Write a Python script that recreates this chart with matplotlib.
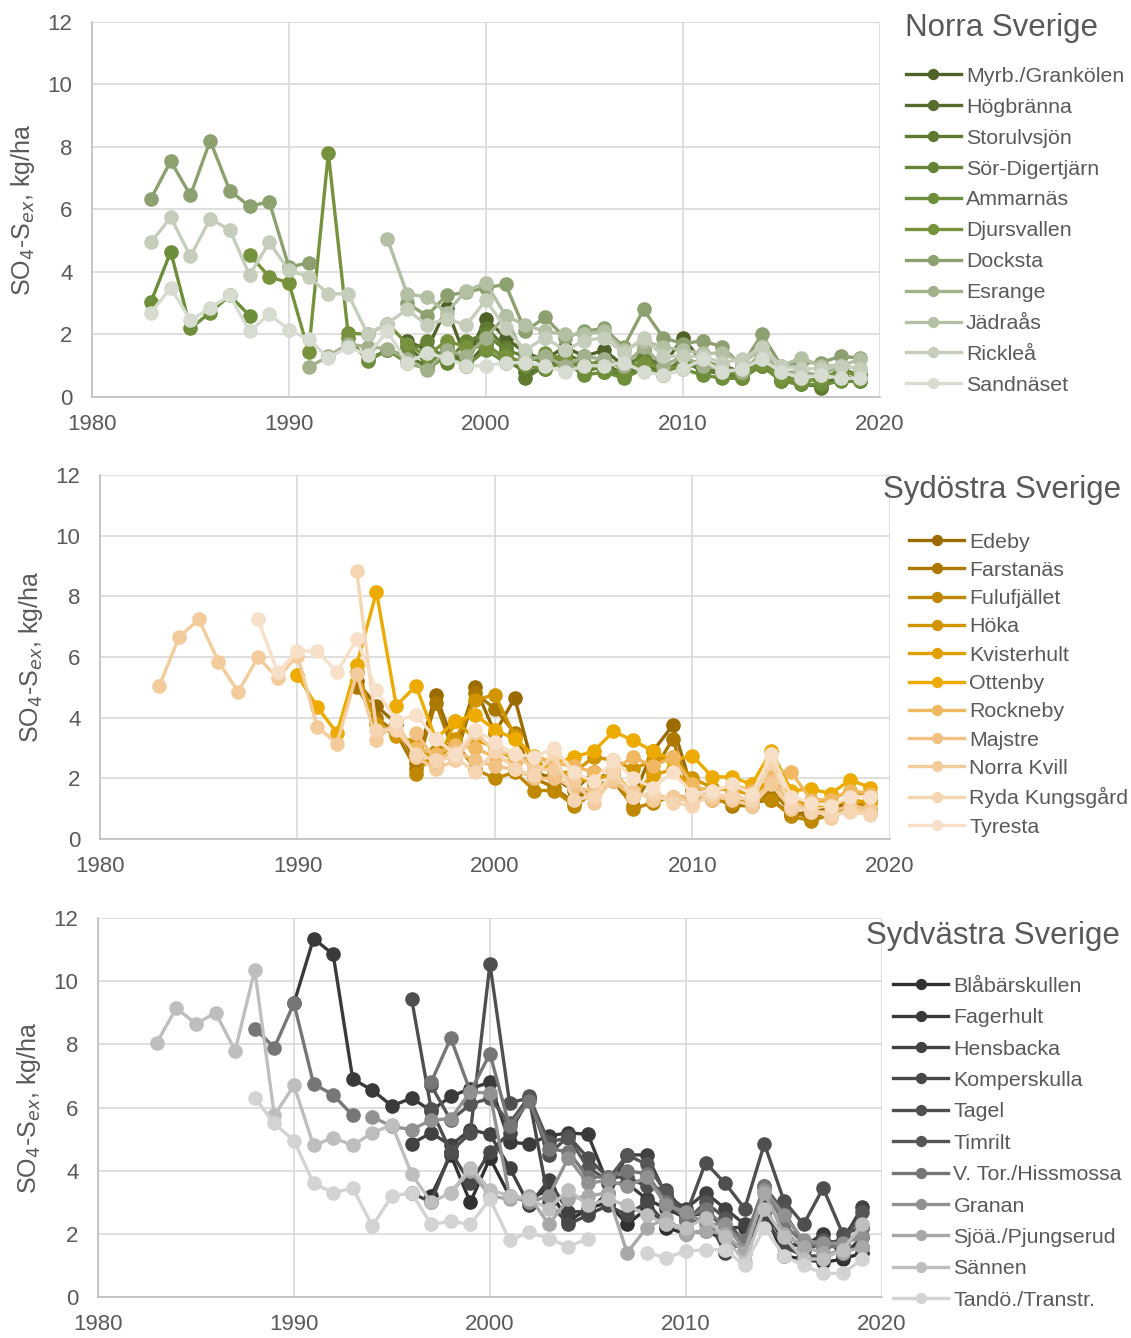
import numpy as np
import matplotlib
matplotlib.use("Agg")
from matplotlib import pyplot as plt

nan = np.nan
years = np.arange(1983, 2020)

# years 1983..2019, nan = no value
# --- Norra Sverige ---
myrb = [nan]*13 + [1.8, 1.5, 2.85, 1.2, 2.5, 1.9, 1.4, 1.2, 1.6, 1.3, 1.5, 1.0, 1.3, 1.0, 1.9, 1.1, 1.0, 0.8, 1.2, 0.7, 0.5, 0.6, 0.8, 0.7]
hogbranna = [nan]*13 + [1.6, 1.1, 1.5, 1.0, 1.7, 1.2, 0.8, 0.9, 1.3, 0.9, 1.1, 0.7, 1.2, 0.8, 1.1, 0.9, 0.7, 0.7, 1.0, 0.6, 0.4, 0.35, 0.7, 0.5]
storulvsjon = [nan]*11 + [1.2, 1.5, 1.3, 1.0, 1.6, 1.1, 2.2, 1.6, 0.6, 1.0, 1.4, 1.1, 0.8, 0.7, 1.0, 0.8, 1.2, 0.8, 0.8, 0.6, 1.1, 0.5, 0.5, 0.3, 0.6, 0.6]
sordigertjarn = [nan]*13 + [1.4, 1.8, 1.1, 1.8, 2.0, 1.5, 1.3, 1.1, 1.3, 0.8, 1.0, 0.7, 1.5, 0.7, 1.0, 1.0, 0.8, 0.7, 1.3, 0.6, 0.6, 0.5, 0.9, 0.7]
ammarnas = [3.05, 4.65, 2.2, 2.7, 3.25, 2.6] + [nan]*4 + [1.9, 1.15, 1.5, 1.1, 0.9, 1.3, 1.0, 1.5, 1.1, 1.0, 0.9, 1.1, 0.7, 0.8, 0.6, 0.9, 0.7, 0.9, 0.7, 0.6, 0.6, 1.0, 0.5, 0.4, 0.4, 0.5, 0.5]
djursvallen = [nan]*5 + [4.55, 3.85, 3.65, 1.45, 7.8, 2.05, 2.0, 2.35, 1.7, 1.3, 1.8, 1.6, 1.6, 1.3, 1.1, 1.4, 1.2, 1.0, 1.2, 0.9, 1.1, 0.9, 1.0, 1.2, 0.9, 0.7, 1.1, 0.6, 0.5, 0.6, 0.8, 0.7]
docksta = [6.35, 7.55, 6.45, 8.2, 6.6, 6.1, 6.25, 4.15, 4.3] + [nan]*4 + [3.0, 2.6, 3.25, 3.35, 3.5, 3.6, 2.1, 2.55, 1.9, 2.1, 2.2, 1.6, 2.8, 1.9, 1.7, 1.8, 1.6, 1.0, 2.0, 1.0, 1.1, 1.1, 1.3, 1.25]
esrange = [nan]*8 + [0.95, 1.3, 1.7, 1.6, 1.55, 1.2, 0.85, 1.5, 1.3, 1.9, 2.6, 1.2, 1.3, 1.0, 1.3, 1.2, 1.0, 1.6, 1.0, 1.3, 1.0, 0.9, 0.8, 1.4, 0.8, 0.8, 0.7, 1.0, 0.9]
jadraas = [nan]*12 + [5.05, 3.3, 3.2, 2.7, 3.4, 3.65, 2.6, 2.3, 2.1, 2.0, 2.0, 2.1, 1.5, 1.8, 1.6, 1.5, 1.4, 1.4, 1.1, 1.5, 1.0, 1.25, 1.0, 1.0, 1.2]
ricklea = [4.95, 5.75, 4.5, 5.7, 5.35, 3.9, 4.95, 4.05, 3.85, 3.3, 3.3, 2.0, 2.35, 2.8, 2.3, 2.5, 2.3, 3.1, 2.2, 1.5, 1.9, 1.5, 1.8, 1.9, 1.4, 1.9, 1.3, 1.3, 1.3, 1.1, 1.2, 1.6, 1.0, 0.9, 0.9, 1.0, 0.9]
sandnaset = [2.7, 3.5, 2.45, 2.85, 3.25, 2.1, 2.65, 2.15, 1.85, 1.25, 1.6, 1.35, 2.1, 1.1, 1.4, 1.25, 1.0, 1.0, 1.1, 1.1, 1.0, 0.8, 1.0, 1.0, 1.1, 0.8, 0.7, 0.9, 1.2, 0.8, 0.9, 1.2, 0.8, 0.6, 0.7, 0.6, 0.6]

# --- Sydöstra Sverige ---
edeby = [nan]*10 + [5.2, 4.4, 3.8, 2.5, 4.75, 3.0, 5.0, 3.5, 4.65, 2.2, 2.0, 1.6, 2.2, 2.0, 1.4, 2.9, 3.75, 1.6, 1.5, 1.3, 1.2, 1.3, 0.8, 0.9, 1.0, 1.2, 1.0]
farstanas = [nan]*10 + [5.0, 4.0, 3.5, 2.3, 4.5, 2.7, 4.8, 4.3, 3.5, 2.0, 1.7, 1.2, 1.8, 1.9, 1.1, 2.2, 3.3, 1.3, 1.4, 1.1, 1.1, 1.6, 0.9, 0.7, 0.9, 1.0, 0.9]
fulufjallet = [nan]*13 + [2.15, 2.9, 3.2, 2.3, 2.0, 2.2, 1.6, 1.6, 1.1, 1.5, 2.1, 1.0, 1.2, 1.4, 1.4, 1.3, 1.2, 1.3, 1.3, 0.75, 0.6, 0.8, 1.0, 1.3]
hoka = [nan]*10 + [5.5, 3.8, 3.4, 3.2, 2.5, 3.3, 4.6, 4.75, 3.4, 2.6, 2.2, 2.2, 2.7, 2.6, 2.3, 2.6, 2.7, 2.0, 1.7, 1.6, 1.5, 2.0, 1.3, 1.2, 1.3, 1.6, 1.4]
kvisterhult = [nan]*13 + [2.7, 2.4, 3.9, 3.3, 3.0, 2.6, 2.5, 2.3, 2.0, 1.9, 2.2, 1.5, 2.1, 2.3, 1.7, 1.6, 1.7, 1.4, 2.0, 1.2, 1.1, 1.1, 1.3, 1.2]
ottenby = [nan]*7 + [5.4, 4.35, 3.5, 5.75, 8.15, 4.4, 5.05, 3.3, 3.9, 4.1, 3.6, 3.3, 2.75, 2.5, 2.7, 2.9, 3.55, 3.25, 2.9, 2.6, 2.75, 2.05, 2.05, 1.8, 2.9, 1.6, 1.65, 1.5, 1.95, 1.7]
rockneby = [nan]*13 + [3.0, 2.8, 3.1, 3.0, 2.7, 2.5, 2.7, 2.5, 2.4, 2.2, 2.3, 2.7, 2.4, 2.7, 1.8, 1.5, 1.8, 1.6, 2.3, 2.2, 1.3, 1.3, 1.6, 1.5]
majstre = [nan]*13 + [3.5, 2.6, 2.9, 2.6, 2.4, 2.3, 2.0, 2.0, 1.7, 1.6, 1.9, 1.4, 1.5, 1.3, 1.5, 1.3, 1.5, 1.2, 1.9, 1.3, 0.9, 0.9, 1.1, 1.0]
norrakvill = [5.05, 6.65, 7.25, 5.85, 4.85, 6.0, 5.3, 6.05, 3.7, 3.15, 5.45, 3.25, 3.9, 2.7, 2.3, 2.6, 3.5, 2.9, 2.8, 2.3, 2.3, 1.9, 1.2, 2.0, 1.6, 1.3, 1.4, 1.2, 1.4, 1.3, 1.1, 1.8, 1.0, 1.0, 0.7, 1.0, 0.9]
ryda = [nan]*10 + [8.85, 3.6, 3.6, 2.8, 2.6, 2.7, 2.2, 2.9, 2.3, 2.1, 2.8, 1.3, 1.4, 2.2, 1.4, 1.5, 1.2, 1.1, 1.5, 1.4, 1.3, 2.5, 1.1, 0.9, 0.8, 0.9, 0.8]
tyresta = [nan]*5 + [7.25, 5.5, 6.2, 6.2, 5.5, 6.6, 4.9, 3.9, 4.1, 3.3, 2.8, 3.6, 3.2, 2.8, 2.7, 3.0, 2.2, 1.9, 2.6, 2.0, 1.7, 2.2, 1.5, 1.6, 1.8, 1.5, 2.8, 1.4, 1.2, 1.1, 1.4, 1.4]

# --- Sydvästra Sverige ---
blabarskullen = [nan]*14 + [3.2, 4.5, 3.0, 4.4, 3.2, 3.1, 3.4, 2.4, 2.8, 3.0, 2.3, 2.8, 2.2, 2.0, 2.1, 1.8, 1.5, 2.7, 1.3, 1.2, 1.1, 1.2, 1.4]
fagerhult = [nan]*7 + [9.3, 11.35, 10.85, 6.9, 6.55, 6.05, 6.3, 5.9, 6.35, 6.6, 6.8, 4.9, 4.85, 5.1, 5.2, 5.15, 3.6, 3.6, 3.1, 2.8, 2.5, 2.7, 2.2, 2.2, 2.9, 1.7, 1.6, 2.0, 1.3, 1.9]
hensbacka = [nan]*13 + [4.85, 5.2, 4.8, 5.3, 5.15, 4.1, 2.9, 3.7, 2.7, 2.7, 3.3, 4.5, 4.5, 3.2, 2.8, 3.3, 2.8, 2.3, 2.4, 2.1, 1.5, 1.7, 1.8, 2.85]
komperskulla = [nan]*13 + [3.3, 3.0, 4.6, 3.6, 4.6, 5.2, 6.3, 3.0, 2.3, 2.6, 2.9, 2.6, 3.0, 2.3, 2.2, 2.6, 1.4, 1.8, 2.5, 1.6, 1.3, 1.3, 1.5, 1.6]
tagel = [nan]*13 + [9.45, 5.95, 4.6, 5.2, 10.55, 6.15, 6.3, 4.5, 5.1, 4.4, 3.8, 3.8, 3.5, 3.4, 2.6, 4.25, 3.6, 2.8, 4.85, 3.05, 2.3, 3.45, 2.0, 2.2]
timrilt = [nan]*14 + [6.7, 5.6, 6.1, 6.3, 5.5, 6.35, 4.9, 5.05, 4.1, 3.7, 4.5, 4.2, 3.3, 2.4, 3.0, 2.5, 1.7, 3.5, 2.7, 1.7, 1.8, 1.7, 2.7]
vtor = [nan]*5 + [8.5, 7.9, 9.3, 6.75, 6.4, 5.75] + [nan]*3 + [6.8, 8.2, 6.5, 7.7, 5.4, 6.2, 4.7, 4.6, 3.8, 3.8, 4.0, 3.9, 3.0, 2.5, 2.8, 2.2, 1.8, 3.5, 2.3, 1.7, 1.6, 1.6, 2.2]
granan = [nan]*11 + [5.7, 5.4, 5.3, 5.6, 5.65, 6.5, 6.45, 3.2, 3.0, 3.2, 4.4, 3.6, 3.7, 3.5, 3.8, 2.9, 2.7, 2.3, 2.3, 1.5, 3.4, 2.6, 1.8, 1.7, 1.7, 1.9]
sjoa = [nan]*15 + [3.3, 4.0, 3.2, 3.1, 3.2, 2.3, 3.1, 3.2, 3.3, 1.4, 2.2, 2.5, 2.0, 2.1, 2.0, 1.4, 3.3, 2.0, 1.6, 1.4, 1.4, 1.6]
sannen = [8.05, 9.15, 8.65, 9.0, 7.8, 10.35, 5.75, 6.7, 4.8, 5.05, 4.8, 5.2, 5.45, 3.9, 3.0, 3.3, 4.1, 3.4, 3.2, 3.1, 2.8, 3.4, 2.9, 3.1, 2.9, 2.6, 2.3, 2.2, 2.5, 1.9, 1.1, 2.8, 1.9, 1.2, 1.2, 1.5, 2.3]
tando = [nan]*5 + [6.3, 5.5, 4.95, 3.6, 3.3, 3.45, 2.25, 3.2, 3.3, 2.3, 2.4, 2.3, 3.1, 1.8, 2.05, 1.85, 1.6, 1.85, nan, nan, 1.4, 1.25, 1.45, 1.5, 1.5, 1.0, 2.2, 1.3, 1.0, 0.75, 0.75, 1.2]

norra_names = ["Myrb./Grankölen", "Högbränna", "Storulvsjön", "Sör-Digertjärn", "Ammarnäs",
               "Djursvallen", "Docksta", "Esrange", "Jädraås", "Rickleå", "Sandnäset"]
norra_vals = [myrb, hogbranna, storulvsjon, sordigertjarn, ammarnas, djursvallen,
              docksta, esrange, jadraas, ricklea, sandnaset]
norra_cols = ["#4F6228", "#566B2C", "#5E7A31", "#668436", "#6D8E3B", "#76923C",
              "#8DA070", "#A2B08C", "#B3C0A4", "#C5CEBB", "#D6DDD0"]

syd_o_names = ["Edeby", "Farstanäs", "Fulufjället", "Höka", "Kvisterhult", "Ottenby",
               "Rockneby", "Majstre", "Norra Kvill", "Ryda Kungsgård", "Tyresta"]
syd_o_vals = [edeby, farstanas, fulufjallet, hoka, kvisterhult, ottenby,
              rockneby, majstre, norrakvill, ryda, tyresta]
syd_o_cols = ["#9C6B00", "#AD7800", "#C08700", "#D29500", "#E0A000", "#EDAA00",
              "#F0B860", "#F2C284", "#F4CC9C", "#F6D6B2", "#F8E0C8"]

syd_v_names = ["Blåbärskullen", "Fagerhult", "Hensbacka", "Komperskulla", "Tagel", "Timrilt",
               "V. Tor./Hissmossa", "Granan", "Sjöä./Pjungserud", "Sännen", "Tandö./Transtr."]
syd_v_vals = [blabarskullen, fagerhult, hensbacka, komperskulla, tagel, timrilt,
              vtor, granan, sjoa, sannen, tando]
syd_v_cols = ["#303030", "#3A3A3C", "#414144", "#48484B", "#4F4F52", "#565659",
              "#767676", "#919191", "#A8A8A8", "#BEBEBE", "#D3D3D3"]

panels = [
    ("Norra Sverige", norra_names, norra_vals, norra_cols),
    ("Sydöstra Sverige", syd_o_names, syd_o_vals, syd_o_cols),
    ("Sydvästra Sverige", syd_v_names, syd_v_vals, syd_v_cols),
]

# axes rectangles in figure fractions, legend anchors, title positions
ax_rects = [[0.0813, 0.7033, 0.6967, 0.2803],
            [0.0884, 0.3729, 0.6985, 0.2720],
            [0.0866, 0.0306, 0.6932, 0.2833]]
leg_anchor = [(0.801, 0.950), (0.804, 0.602), (0.790, 0.270)]
leg_spacing = [0.556, 0.435, 0.58]
title_pos = [(0.800, 0.990), (0.781, 0.645), (0.766, 0.312)]

plt.rcParams['font.family'] = ['Liberation Sans', 'DejaVu Sans']
txt = "#595959"

fig = plt.figure(figsize=(11.31, 13.38), dpi=100)

for i, (title, names, vals, cols) in enumerate(panels):
    ax = fig.add_axes(ax_rects[i])
    for name, v, c in zip(names, vals, cols):
        ax.plot(years, np.array(v, dtype=float), color=c, lw=2.4, marker='o',
                markersize=9.5, markeredgecolor=c, label=name, solid_joinstyle='round')
    ax.set_xlim(1980, 2020)
    ax.set_ylim(0, 12)
    ax.set_xticks([1980, 1990, 2000, 2010, 2020])
    ax.set_yticks(range(0, 13, 2))
    ax.grid(True, color="#D9D9D9", lw=1.2)
    ax.set_axisbelow(True)
    for s in ['top', 'right']:
        ax.spines[s].set_visible(False)
    for s in ['left', 'bottom']:
        ax.spines[s].set_color("#BFBFBF")
        ax.spines[s].set_linewidth(1.2)
    ax.tick_params(length=0, labelsize=16, colors=txt)
    ax.tick_params(axis='x', pad=12)
    ax.tick_params(axis='y', pad=14)
    ax.set_ylabel("SO$_4$-S$_{ex}$, kg/ha", fontsize=18, color=txt, labelpad=8)
    fig.text(title_pos[i][0], title_pos[i][1], title, fontsize=22.5, color=txt,
             ha='left', va='top')
    ax.legend(loc='upper left', bbox_to_anchor=leg_anchor[i], bbox_transform=fig.transFigure,
              frameon=False, fontsize=15.4, labelcolor=txt, handlelength=2.57,
              handletextpad=0.23, labelspacing=leg_spacing[i], borderaxespad=0, borderpad=0,
              markerscale=0.75)

plt.savefig("out.png", dpi=100)
